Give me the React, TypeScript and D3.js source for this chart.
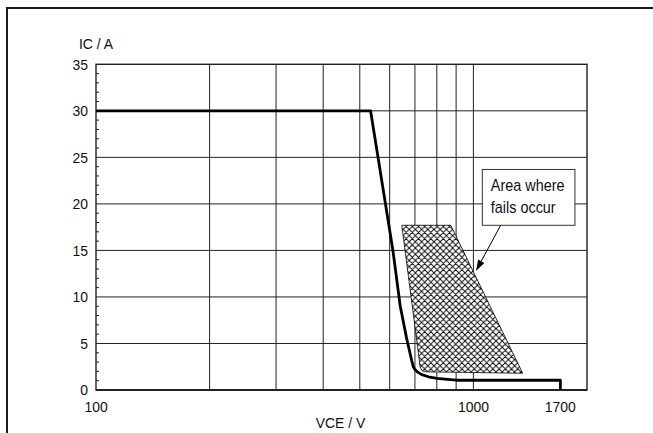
import React from "react";
import * as d3 from "d3";

const W = 653;
const H = 433;

// Axis definitions
const xDomain: [number, number] = [100, 2000];
const yDomain: [number, number] = [0, 35];
const xGridValues = [200, 300, 400, 500, 600, 700, 800, 900, 1000];
const xTickLabels = [100, 1000, 1700];
const yMajorTicks = [0, 5, 10, 15, 20, 25, 30, 35];
const yMinorTicks = d3.range(0, 36, 1);

// SOA curve (VCE [V], IC [A])
const curveV = [100, 534, 612, 640, 665, 686, 693, 700, 710, 730, 760, 800, 900, 1700, 1700];
const curveI = [30, 30, 15, 9.0, 5.6, 3.2, 2.5, 2.2, 1.95, 1.65, 1.42, 1.25, 1.05, 1.05, 0];

// Failure area polygon
const areaV = [646, 871, 1351, 752, 732, 722, 719];
const areaI = [17.7, 17.7, 1.8, 1.95, 2.05, 2.5, 3.2];

// Annotation box and arrow (data coordinates)
const boxV = [1056, 1858];
const boxI = [23.7, 17.7];
const boxLines = ["Area where", "fails occur"];
const arrowV = [1181, 1016];
const arrowI = [17.7, 12.8];

const M = { left: 96, right: 587, top: 64.3, bottom: 390 };
const FONT = "'Liberation Sans', Arial, Helvetica, sans-serif";

function T(props: { x: number; y: number; anchor?: string; size: number; sx: number; dy?: string; children: React.ReactNode }) {
  return (
    <g transform={`translate(${props.x},${props.y}) scale(${props.sx},1)`}>
      <text x={0} y={0} dy={props.dy} textAnchor={props.anchor || "start"} fontSize={props.size} fill="#111">
        {props.children}
      </text>
    </g>
  );
}

export default function App() {
  const x = d3.scaleLog().domain(xDomain).range([M.left, M.right]);
  const y = d3.scaleLinear().domain(yDomain).range([M.bottom, M.top]);

  const curvePts: [number, number][] = curveV.map((v, i) => [x(v), y(curveI[i])]);
  const areaPts: [number, number][] = areaV.map((v, i) => [x(v), y(areaI[i])]);
  const line = d3.line().curve(d3.curveLinear);

  const bx0 = x(boxV[0]);
  const bx1 = x(boxV[1]);
  const by0 = y(boxI[0]);
  const by1 = y(boxI[1]);

  const ax0 = x(arrowV[0]);
  const ay0 = y(arrowI[0]);
  const ax1 = x(arrowV[1]);
  const ay1 = y(arrowI[1]);
  const ang = Math.atan2(ay1 - ay0, ax1 - ax0);
  const hl = 11;
  const hw = 3.5;
  const bxp = ax1 - hl * Math.cos(ang);
  const byp = ay1 - hl * Math.sin(ang);
  const head = [
    [ax1, ay1],
    [bxp + hw * Math.sin(ang), byp - hw * Math.cos(ang)],
    [bxp - hw * Math.sin(ang), byp + hw * Math.cos(ang)],
  ];

  const P = 6.2;

  return (
    <svg
      width={W}
      height={H}
      style={{ position: "absolute", left: 0, top: 0, background: "#fff" }}
      fontFamily={FONT}
    >
      <defs>
        <pattern id="xhatch" patternUnits="userSpaceOnUse" width={P} height={P}>
          <rect width={P} height={P} fill="#fff" />
          <path
            d={`M0,0 L${P},${P} M${P},0 L0,${P} M-1,${P - 1} L1,${P + 1} M${P - 1},-1 L${P + 1},1 M-1,1 L1,-1 M${P - 1},${P + 1} L${P + 1},${P - 1}`}
            stroke="#000"
            strokeWidth={0.9}
          />
        </pattern>
      </defs>

      {/* outer frame */}
      <rect x={7} y={8} width={700} height={500} fill="none" stroke="#1a1a1a" strokeWidth={2} />

      {/* vertical gridlines */}
      {xGridValues.map((v) => (
        <line key={"gx" + v} x1={x(v)} x2={x(v)} y1={M.top} y2={M.bottom} stroke="#222" strokeWidth={1} />
      ))}
      {/* horizontal gridlines */}
      {yMajorTicks.slice(1, -1).map((v) => (
        <line key={"gy" + v} x1={M.left} x2={M.right} y1={y(v)} y2={y(v)} stroke="#222" strokeWidth={1} />
      ))}
      {/* minor y ticks */}
      {yMinorTicks.filter((v) => v % 5 !== 0).map((v) => (
        <line key={"my" + v} x1={M.left} x2={M.left + 3} y1={y(v)} y2={y(v)} stroke="#222" strokeWidth={1} />
      ))}

      {/* plot frame */}
      <rect x={M.left} y={M.top} width={M.right - M.left} height={M.bottom - M.top} fill="none" stroke="#222" strokeWidth={1.4} />
      <line x1={M.left} x2={M.right} y1={M.bottom} y2={M.bottom} stroke="#222" strokeWidth={2} />

      {/* failure area */}
      <path d={line(areaPts) + "Z"} fill="url(#xhatch)" stroke="#000" strokeWidth={0.8} />

      {/* SOA curve */}
      <path d={line(curvePts) || ""} fill="none" stroke="#000" strokeWidth={2.8} strokeLinejoin="round" />

      {/* y tick labels */}
      {yMajorTicks.map((v) => (
        <T key={"ty" + v} x={M.left - 8} y={y(v)} dy="0.36em" anchor="end" size={15} sx={0.93}>
          {v}
        </T>
      ))}
      {/* x tick labels */}
      {xTickLabels.map((v) => (
        <T key={"tx" + v} x={x(v)} y={M.bottom + 21.5} anchor="middle" size={15} sx={0.93}>
          {v}
        </T>
      ))}

      {/* axis titles */}
      <T x={M.left} y={49} anchor="middle" size={15} sx={0.93}>
        IC / A
      </T>
      <T x={340.5} y={428} anchor="middle" size={15} sx={0.93}>
        VCE / V
      </T>

      {/* annotation box */}
      <rect x={bx0} y={by0} width={bx1 - bx0} height={by1 - by0} fill="#fff" stroke="#333" strokeWidth={1} />
      {boxLines.map((t, i) => (
        <T key={t} x={bx0 + 8.5} y={by0 + 21.5 + i * 22.5} size={16} sx={0.9}>
          {t}
        </T>
      ))}

      {/* arrow */}
      <line x1={ax0} y1={ay0} x2={bxp} y2={byp} stroke="#000" strokeWidth={1} />
      <path d={"M" + head.map((p) => p.join(",")).join("L") + "Z"} fill="#000" />
    </svg>
  );
}
